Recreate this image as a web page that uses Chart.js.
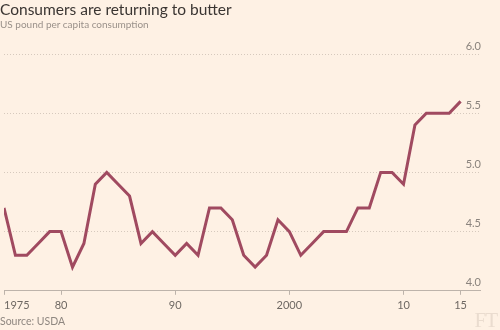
<!DOCTYPE html>
<html>
<head>
<meta charset="utf-8">
<script src="https://cdn.jsdelivr.net/npm/chart.js@4"></script>
<style>
  body { margin: 0; background: #fef1e4; }
  #wrap { position: relative; width: 500px; height: 330px; overflow: hidden; }
  #title { position: absolute; left: 0; top: 0; font: 15.5px "Lato", sans-serif; color: #3a3532; white-space: nowrap; }
  #subtitle { position: absolute; left: 0; top: 18px; font: 10px "Lato", sans-serif; color: #9a918a; white-space: nowrap; }
  #source { position: absolute; left: 0; top: 315px; font: 10.5px "Lato", sans-serif; color: #8f8780; }
  #logo { position: absolute; right: 3px; top: 308px; font: 21px "Liberation Serif", serif; color: #eadccf; letter-spacing: -1px; }
  canvas { position: absolute; left: 0; top: 0; }
</style>
</head>
<body>
<div id="wrap">
  <canvas id="myChart" width="500" height="330"></canvas>
  <div id="title">Consumers are returning to butter</div>
  <div id="subtitle">US pound per capita consumption</div>
  <div id="source">Source: USDA</div>
  <div id="logo">FT</div>
</div>
<script>
const years = [1975, 1976, 1977, 1978, 1979, 1980, 1981, 1982, 1983, 1984,
    1985, 1986, 1987, 1988, 1989, 1990, 1991, 1992, 1993, 1994,
    1995, 1996, 1997, 1998, 1999, 2000, 2001, 2002, 2003, 2004,
    2005, 2006, 2007, 2008, 2009, 2010, 2011, 2012, 2013, 2014, 2015]
const butter = [4.7, 4.3, 4.3, 4.4, 4.5, 4.5, 4.2, 4.4, 4.9, 5.0,
    4.9, 4.8, 4.4, 4.5, 4.4, 4.3, 4.4, 4.3, 4.7, 4.7,
    4.6, 4.3, 4.2, 4.3, 4.6, 4.5, 4.3, 4.4, 4.5, 4.5,
    4.5, 4.7, 4.7, 5.0, 5.0, 4.9, 5.4, 5.5, 5.5, 5.5, 5.6]
const tickYears = [1975, 1980, 1990, 2000, 2010, 2015]
const tickLabels = ['1975', '80', '90', '2000', '10', '15']
const yTicks = [4.0, 4.5, 5.0, 5.5, 6.0]

const xMax = 2016.7

const data = {
    datasets: [{
        data: years.map((y, i) => ({ x: y, y: butter[i] })),
        borderColor: '#a04a60',
        borderWidth: 3,
        pointRadius: 0,
        tension: 0,
        fill: false
    }]
}

const config = {
    type: 'line',
    data: data,
    options: {
        responsive: false,
        animation: false,
        layout: { padding: { top: 54, right: 18, bottom: 14, left: 2 } },
        plugins: {
            legend: { display: false },
            tooltip: { enabled: false }
        },
        scales: {
            x: {
                type: 'linear',
                min: 1975,
                max: xMax,
                afterBuildTicks: scale => {
                    // extra blank tick at the end so "15" stays centred
                    scale.ticks = tickYears.concat([xMax]).map(v => ({ value: v }))
                },
                ticks: {
                    align: 'inner',
                    maxRotation: 0,
                    autoSkip: false,
                    padding: 4,
                    color: '#6e6863',
                    font: { family: 'Lato', size: 11 },
                    callback: value => {
                        const i = tickYears.indexOf(value)
                        return i >= 0 ? tickLabels[i] : ''
                    }
                },
                grid: {
                    drawOnChartArea: false,
                    drawTicks: true,
                    tickLength: 4,
                    tickColor: ctx => ctx.tick && ctx.tick.value === xMax ? 'rgba(0,0,0,0)' : '#bdb3aa'
                },
                border: { display: true, color: '#bdb3aa', width: 1 }
            },
            y: {
                position: 'right',
                min: 4,
                max: 6,
                afterBuildTicks: scale => {
                    scale.ticks = yTicks.map(v => ({ value: v }))
                },
                ticks: {
                    mirror: true,
                    padding: 1,
                    labelOffset: -8,
                    color: '#8a837d',
                    font: { family: 'Lato', size: 11 },
                    callback: value => value.toFixed(1)
                },
                grid: {
                    drawTicks: false,
                    color: '#d6c9bd',
                    lineWidth: 1
                },
                border: { display: false, dash: [1, 2] }
            }
        }
    }
}

const myChart = new Chart(
    document.getElementById('myChart'),
    config
)
</script>
</body>
</html>
